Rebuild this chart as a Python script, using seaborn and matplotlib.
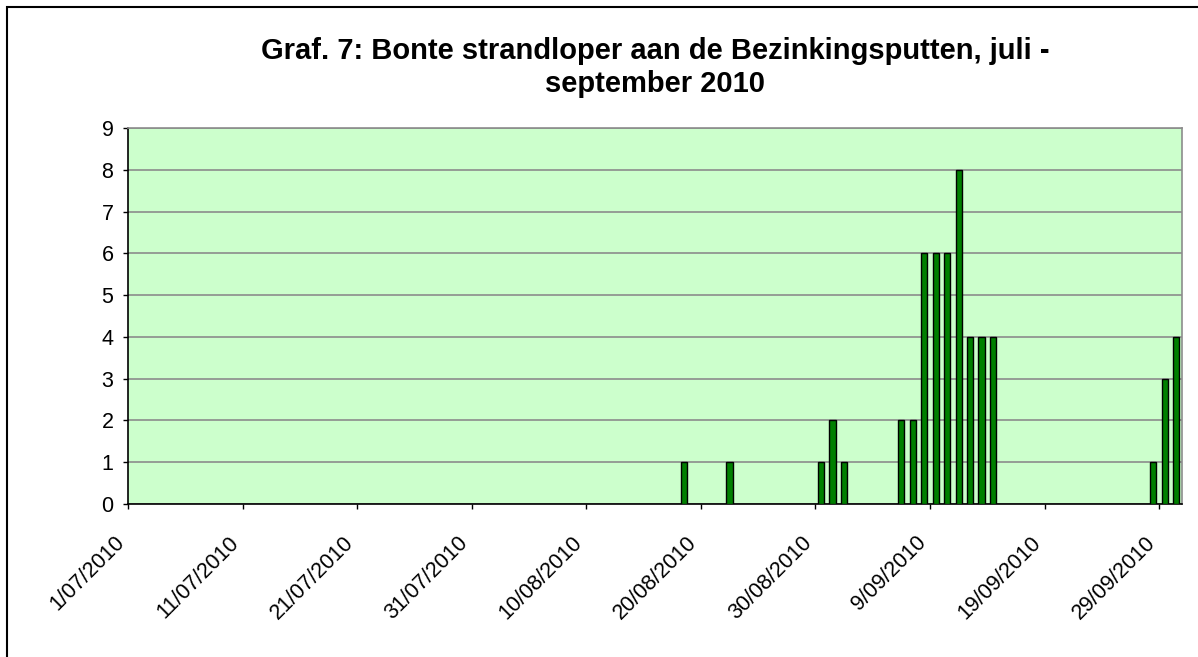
import pandas as pd
import seaborn as sns
import matplotlib.pyplot as plt
from matplotlib.patches import Rectangle
from matplotlib.transforms import ScaledTranslation

# observation dates and counts (Bonte strandloper)
obs_dates = ["18/08/2010", "22/08/2010", "30/08/2010", "31/08/2010", "01/09/2010",
             "06/09/2010", "07/09/2010", "08/09/2010", "09/09/2010", "10/09/2010",
             "11/09/2010", "12/09/2010", "13/09/2010", "14/09/2010",
             "28/09/2010", "29/09/2010", "30/09/2010"]
counts = [1, 1, 1, 2, 1,
          2, 2, 6, 6, 6,
          8, 4, 4, 4,
          1, 3, 4]

tick_labels = ["1/07/2010", "11/07/2010", "21/07/2010", "31/07/2010", "10/08/2010",
               "20/08/2010", "30/08/2010", "9/09/2010", "19/09/2010", "29/09/2010"]

title = "Graf. 7: Bonte strandloper aan de Bezinkingsputten, juli -\nseptember 2010"

start = pd.Timestamp("2010-07-01")
end = pd.Timestamp("2010-10-01")

df = pd.DataFrame({"date": pd.to_datetime(obs_dates, format="%d/%m/%Y"), "count": counts})
# each day occupies one unit, bar centred in its day
df["day"] = (df["date"] - start).dt.days + 0.5
tick_pos = [(pd.to_datetime(t, format="%d/%m/%Y") - start).days for t in tick_labels]

sns.set_theme(style="white")
plt.rcParams["font.family"] = ["Liberation Sans", "DejaVu Sans"]
plt.rcParams["text.color"] = "black"

fig = plt.figure(figsize=(11.98, 6.57), dpi=100)
ax = fig.add_axes([128 / 1198, 1 - 504 / 657, (1182 - 128) / 1198, (504 - 128) / 657])
ax.set_facecolor("#CCFFCC")

sns.barplot(data=df, x="day", y="count", native_scale=True, width=0.54,
            color="#008000", saturation=1, edgecolor="black", linewidth=1, ax=ax, zorder=3)

ax.set_xlim(0, (end - start).days)
ax.set_ylim(0, 9)
ax.set_yticks(range(0, 10))
ax.yaxis.grid(True, color="#8c8c8c", linewidth=1.2, zorder=1)
ax.set_axisbelow(True)

ax.set_xticks(tick_pos)
ax.set_xticklabels(tick_labels, rotation=45, ha="right", va="center", rotation_mode="anchor")
ax.tick_params(axis="x", direction="out", length=3.5, width=1, colors="black",
               labelsize=15.5, pad=22, bottom=True)
ax.tick_params(axis="y", direction="out", length=3.5, width=1, colors="black",
               labelsize=15.5, pad=7, left=True)
# nudge the rotated date labels a little to the left, like Excel does
shift = ScaledTranslation(-7 / 100, 0, fig.dpi_scale_trans)
for lbl in ax.get_xticklabels():
    lbl.set_transform(lbl.get_transform() + shift)

ax.set_xlabel("")
ax.set_ylabel("")
for side in ["left", "bottom"]:
    ax.spines[side].set_color("black")
    ax.spines[side].set_linewidth(1.2)
for side in ["top", "right"]:
    ax.spines[side].set_color("#8c8c8c")
    ax.spines[side].set_linewidth(1.2)

ax.set_title(title, fontsize=21, fontweight="bold", color="black", pad=26, linespacing=1.2)

# chart frame (only top and left visible in the crop)
fig.patches.append(Rectangle((7 / 1198, -0.2), 1.2, 1.2 - 7 / 657,
                             transform=fig.transFigure, fill=False,
                             edgecolor="black", linewidth=1.5))

fig.savefig("out.png", dpi=100)
